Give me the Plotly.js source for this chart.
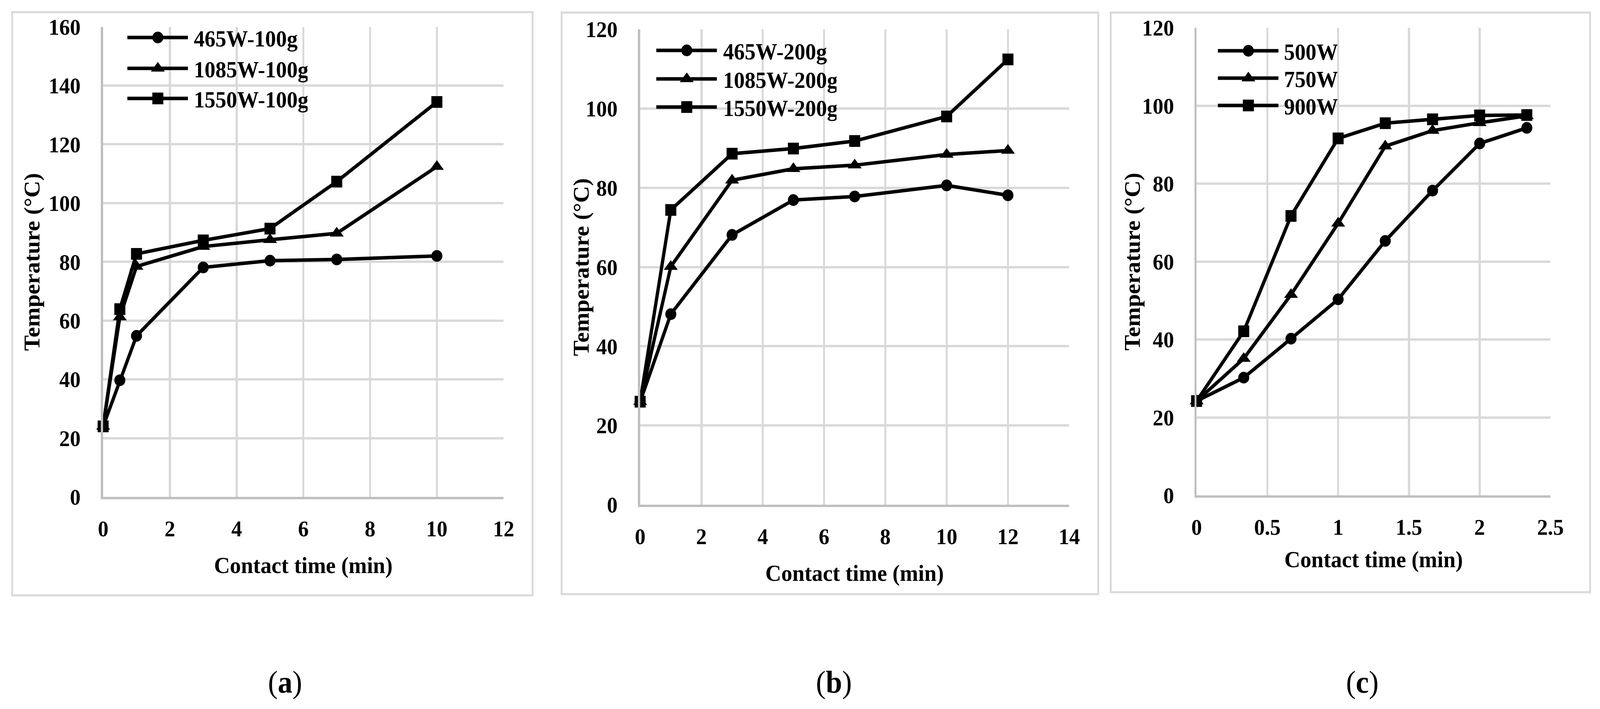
<!DOCTYPE html>
<html>
<head>
<meta charset="utf-8">
<script src="https://cdn.plot.ly/plotly-3.0.1.min.js"></script>
<style>html,body{margin:0;padding:0;background:#fff;overflow:hidden;}</style>
</head>
<body>
<div id="chart" style="width:4359px;height:1815px;"></div>
<script>
// ---------- data ----------
const timeA = [0, 0.5, 1, 3, 5, 7, 10];
const namesA = ['465W-100g', '1085W-100g', '1550W-100g'];
const a465 = [24, 39.7, 54.8, 78.1, 80.4, 80.8, 82.0];
const a1085 = [24, 61.2, 78.4, 85.2, 87.5, 89.7, 112.4];
const a1550 = [24, 63.9, 82.7, 87.3, 91.3, 107.3, 134.4];

const timeB = [0, 1, 3, 5, 7, 10, 12];
const namesB = ['465W-200g', '1085W-200g', '1550W-200g'];
const b465 = [26, 48.1, 68.1, 76.9, 77.8, 80.6, 78.1];
const b1085 = [26, 60.1, 81.9, 84.8, 85.7, 88.4, 89.4];
const b1550 = [26, 74.4, 88.6, 89.9, 91.8, 98.0, 112.4];

const timeC = [0, 0.333, 0.667, 1, 1.333, 1.667, 2, 2.333];
const namesC = ['500W', '750W', '900W'];
const c500 = [24.2, 30.2, 40.2, 50.3, 65.3, 78.2, 90.3, 94.3];
const c750 = [24.2, 35.1, 51.5, 69.8, 89.6, 93.6, 95.6, 97.4];
const c900 = [24.2, 42.1, 71.7, 91.6, 95.5, 96.5, 97.5, 97.6];

const xTitle = 'Contact time (min)';
const yTitle = 'Temperature (°C)';
const captions = ['a', 'b', 'c'];

// ---------- layout helpers ----------
const W = 4359, H = 1815;
const px = v => v / W;
const py = v => 1 - v / H;
const FONT = '"Liberation Serif", "Times New Roman", serif';
const symbols = ['circle', 'triangle-up', 'square'];
const symbolSizes = [30, 33, 30];
const nameLists = [namesA, namesB, namesC];
const TEXT_SEL = 'text.legendtext, text.legend2text, text.legend3text';

function mk(x, y, name, i, ax, lg) {
  return {
    type: 'scatter', mode: 'lines+markers', x: x, y: y, name: name,
    xaxis: ax[0], yaxis: ax[1], legend: lg, cliponaxis: false,
    line: {color: '#000', width: 9},
    marker: {symbol: symbols[i], size: symbolSizes[i], color: '#000'},
    hoverinfo: 'x+y+name'
  };
}

const traces = [
  mk(timeA, a465, namesA[0], 0, ['x', 'y'], 'legend'),
  mk(timeA, a1085, namesA[1], 1, ['x', 'y'], 'legend'),
  mk(timeA, a1550, namesA[2], 2, ['x', 'y'], 'legend'),
  mk(timeB, b465, namesB[0], 0, ['x2', 'y2'], 'legend2'),
  mk(timeB, b1085, namesB[1], 1, ['x2', 'y2'], 'legend2'),
  mk(timeB, b1550, namesB[2], 2, ['x2', 'y2'], 'legend2'),
  mk(timeC, c500, namesC[0], 0, ['x3', 'y3'], 'legend3'),
  mk(timeC, c750, namesC[1], 1, ['x3', 'y3'], 'legend3'),
  mk(timeC, c900, namesC[2], 2, ['x3', 'y3'], 'legend3')
];

// plot-area pixel boxes [left, right, top, bottom]
const boxes = [
  [281, 1372, 68.5, 1272],
  [1744, 2913, 75, 1292],
  [3260, 4224, 71, 1268]
];
const ranges = [[12, 2, 160, 20], [14, 2, 120, 20], [2.5, 0.5, 120, 20]];
// outer panel frames
const frames = [
  [33, 1451, 31, 1524],
  [1530, 2992, 32, 1521],
  [3026, 4332, 32, 1516]
];
// legend geometry per panel
const legendGeo = [
  {lineStart: 347, marker: 430, lineEnd: 512, text: 528, rows: [96, 175, 252]},
  {lineStart: 1788, marker: 1871, lineEnd: 1953, text: 1970, rows: [129, 202, 274]},
  {lineStart: 3318, marker: 3401, lineEnd: 3483, text: 3498, rows: [130, 200, 270]}
];

function xaxis(i, anchor) {
  const b = boxes[i], r = ranges[i];
  return {
    domain: [px(b[0]), px(b[1])], anchor: anchor, range: [0, r[0]],
    tickmode: 'linear', tick0: 0, dtick: r[1],
    showgrid: true, gridcolor: '#d9d9d9', gridwidth: 6,
    showline: true, linecolor: '#bfbfbf', linewidth: 6,
    zeroline: false, ticks: '', ticklabelstandoff: 25,
    tickfont: {family: FONT, size: 58, color: '#000', weight: 'bold'},
    fixedrange: true
  };
}
function yaxis(i, anchor) {
  const b = boxes[i], r = ranges[i];
  return {
    domain: [py(b[3]), py(b[2])], anchor: anchor, range: [0, r[2]],
    tickmode: 'linear', tick0: 0, dtick: r[3],
    showgrid: true, gridcolor: '#d9d9d9', gridwidth: 6,
    showline: true, linecolor: '#bfbfbf', linewidth: 6,
    zeroline: false, ticks: '', ticklabelstandoff: 44,
    tickfont: {family: FONT, size: 58, color: '#000', weight: 'bold'},
    fixedrange: true
  };
}
function legend(i) {
  const g = legendGeo[i];
  return {
    x: px(g.lineStart - 5), y: py(g.rows[0] - 44), xanchor: 'left', yanchor: 'top',
    bgcolor: 'rgba(0,0,0,0)', borderwidth: 0,
    font: {family: FONT, size: 59, color: '#000', weight: 'bold'},
    itemwidth: 168, tracegroupgap: 0, itemsizing: 'trace'
  };
}

const shapes = frames.map(f => ({
  type: 'rect', xref: 'paper', yref: 'paper',
  x0: px(f[0]), x1: px(f[1]), y0: py(f[3]), y1: py(f[2]),
  line: {color: '#d9d9d9', width: 5}, layer: 'below'
}));

const annotations = [];
const xTitleY = [1447, 1467, 1432];
const yTitleX = [88, 1584, 3086];
const capX = [776, 2272, 3711];
boxes.forEach((b, i) => {
  annotations.push({
    xref: 'paper', yref: 'paper', x: px((b[0] + b[1]) / 2), y: py(xTitleY[i]),
    xanchor: 'center', yanchor: 'middle', showarrow: false, text: xTitle,
    font: {family: FONT, size: 60, color: '#000', weight: 'bold'}
  });
  annotations.push({
    xref: 'paper', yref: 'paper', x: px(yTitleX[i]), y: py((b[2] + b[3]) / 2),
    xanchor: 'center', yanchor: 'middle', showarrow: false, text: yTitle, textangle: -90,
    font: {family: FONT, size: 60, color: '#000', weight: 'bold'}
  });
  annotations.push({
    xref: 'paper', yref: 'paper', x: px(capX[i]), y: py(1746),
    xanchor: 'center', yanchor: 'middle', showarrow: false,
    text: '(<b>' + captions[i] + '</b>)',
    font: {family: FONT, size: 80, color: '#000'}
  });
});

const layout = {
  width: W, height: H,
  margin: {l: 0, r: 0, t: 0, b: 0},
  paper_bgcolor: '#fff', plot_bgcolor: 'rgba(0,0,0,0)',
  showlegend: true,
  xaxis: xaxis(0, 'y'), yaxis: yaxis(0, 'x'),
  xaxis2: xaxis(1, 'y2'), yaxis2: yaxis(1, 'x2'),
  xaxis3: xaxis(2, 'y3'), yaxis3: yaxis(2, 'x3'),
  legend: legend(0), legend2: legend(1), legend3: legend(2),
  shapes: shapes,
  annotations: annotations
};

const gd = document.getElementById('chart');

function setAttr(el, name, val) {
  if (el.getAttribute(name) !== String(val)) el.setAttribute(name, val);
}
// Excel-style legend samples: long thick line, full-size marker, text after the line
function styleItem(it, panel, row) {
  const g = legendGeo[panel];
  const target = g.rows[row];
  const line = it.querySelector('.legendlines path.js-line') || it.querySelector('.legendlines path');
  if (line) {
    const ctm = line.parentNode.getCTM();
    if (!ctm) return;
    const dy = target - ctm.f;
    if (Math.abs(dy) > 0.05) {
      it.setAttribute('transform', (it.getAttribute('transform') || '') + ' translate(0,' + dy.toFixed(2) + ')');
    }
    const pc = line.parentNode.getCTM();
    setAttr(line, 'd', 'M' + (g.lineStart - pc.e).toFixed(2) + ',' + (target - pc.f).toFixed(2) + 'h' + (g.lineEnd - g.lineStart));
    if (line.style.strokeWidth !== '9px') line.style.strokeWidth = '9px';
  }
  const pts = it.querySelector('.legendpoints path.scatterpts');
  if (pts) {
    const pp = pts.parentNode.getCTM();
    if (pp) {
      const s = symbolSizes[row] / 16;
      setAttr(pts, 'transform', 'translate(' + (g.marker - pp.e).toFixed(2) + ',' + (target - pp.f).toFixed(2) + ') scale(' + s + ')');
    }
  }
  const tx = it.querySelector(TEXT_SEL);
  if (tx) {
    const tc = tx.parentNode.getCTM();
    if (tc) {
      const xv = (g.text - tc.e).toFixed(2);
      setAttr(tx, 'x', xv);
      tx.querySelectorAll('tspan[x]').forEach(t => setAttr(t, 'x', xv));
    }
  }
}
function fixLegends() {
  const all = Array.from(gd.querySelectorAll('g.traces')).filter(it => it.querySelector(TEXT_SEL));
  all.forEach(it => {
    const name = (it.querySelector(TEXT_SEL).textContent || '').trim();
    for (let p = 0; p < 3; p++) {
      const r = nameLists[p].indexOf(name);
      if (r >= 0) { styleItem(it, p, r); break; }
    }
  });
}
const observer = new MutationObserver(() => {
  observer.disconnect();
  try { fixLegends(); } catch (e) {}
  observer.takeRecords();
  observer.observe(gd, {childList: true, subtree: true, attributes: true});
});
observer.observe(gd, {childList: true, subtree: true, attributes: true});

function fitViewport() {
  const vw = Math.min(window.innerWidth || W, document.documentElement.clientWidth || W);
  const vh = Math.min(window.innerHeight || H, document.documentElement.clientHeight || H);
  const sx = Math.min(1, vw / W), sy = Math.min(1, vh / H);
  if (sx < 1 || sy < 1) {
    gd.style.transformOrigin = '0 0';
    gd.style.transform = 'scale(' + sx + ',' + sy + ')';
  }
}

Plotly.newPlot(gd, traces, layout, {staticPlot: true, displayModeBar: false}).then(() => {
  try { fixLegends(); } catch (e) {}
  fitViewport();
});
</script>
</body>
</html>
